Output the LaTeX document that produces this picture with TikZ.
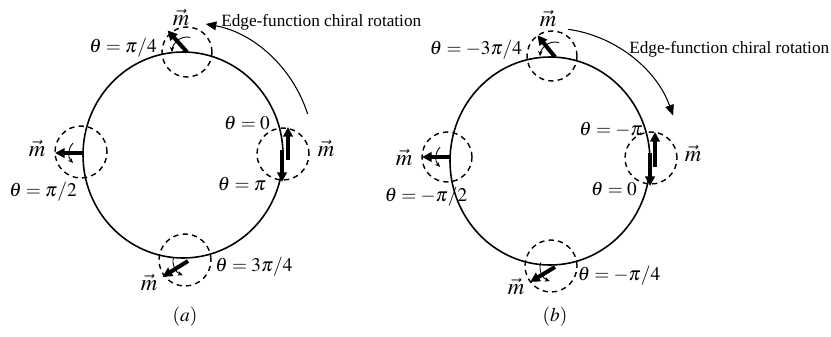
\documentclass[tikz,border=0pt]{standalone}
\usepackage{mathptmx}
\usepackage[no-math]{fontspec}
\setmainfont{Liberation Serif}
\usetikzlibrary{arrows.meta,calc}

\begin{document}
\begin{tikzpicture}[x=0.02cm, y=0.02cm, line join=round,
    rim/.style={line width=0.9pt},
    probe/.style={line width=0.8pt, dash pattern=on 3pt off 2.4pt},
    mvec/.style={line width=2.3pt, -{Triangle[length=5.5pt,width=5.4pt]}},
    spin/.style={line width=0.5pt, -{Stealth[length=3pt,width=2.6pt]}},
    chiral/.style={line width=0.6pt, -{Triangle[length=6pt,width=5pt]}},
    lab/.style={font=\fontsize{11}{12}\selectfont, inner sep=0pt},
    mlab/.style={font=\fontsize{13}{14}\selectfont, inner sep=0pt},
    note/.style={font=\fontsize{9.8}{11}\selectfont, inner sep=0pt, anchor=west}]
    \useasboundingbox (0,0) rectangle (831,336);

    % ---------- (a) ----------
    \coordinate (Ca) at (183,181);
    \draw[rim] (Ca) ellipse [x radius=100, y radius=103];

    % 四个探测点
    \coordinate (Ta) at (187,284);
    \coordinate (La) at (83,183);
    \coordinate (Ra) at (283,182);
    \coordinate (Ba) at (188,75);
    \draw[probe] (Ta) circle[radius=25];
    \draw[probe] (81,184) circle[radius=26];
    \draw[probe] (Ra) circle[radius=26];
    \draw[probe] (185,76) circle[radius=26];

    % 磁矩 m
    \draw[mvec] (Ta) -- ++(132:29);
    \draw[mvec] (La) -- ++(180:28);
    \draw[mvec] (288,176) -- (288,209);
    \draw[mvec] (282,186) -- (282,154);
    \draw[mvec] (Ba) -- ++(212:30);

    % 小转向箭头
    \draw[spin] ($(Ta)+(77:15)$) arc[start angle=77, end angle=180, radius=15];
    \draw[spin] ($(La)+(135:14)$) arc[start angle=135, end angle=225, radius=14];
    \draw[spin] ($(Ba)+(165:15)$) arc[start angle=165, end angle=250, radius=15];

    % 手征旋转
    \draw[chiral] ($(Ca)+(18:131 and 133)$) arc[start angle=18, end angle=80, x radius=131, y radius=133];
    \node[note] (ta) at (221,314) {Edge-function chiral rotation};

    % 标签
    \node[mlab] (mta) at (181,319) {$\vec{m}$};
    \node[lab] (tha) at (123,288) {$\theta=\pi/4$};
    \node[lab] (tza) at (247,213) {$\theta=0$};
    \node[mlab] (mra) at (326,188) {$\vec{m}$};
    \node[lab] (tpa) at (242,152) {$\theta=\pi$};
    \node[mlab] (mla) at (37,188) {$\vec{m}$};
    \node[lab] (tla) at (43,144) {$\theta=\pi/2$};
    \node[mlab] (mba) at (149,54) {$\vec{m}$};
    \node[lab] (tba) at (254,69) {$\theta=3\pi/4$};
    \node[lab] (capa) at (185,19) {$(a)$};

    % ---------- (b) ----------
    \coordinate (Cb) at (550,175);
    \draw[rim] (Cb) ellipse [x radius=100, y radius=104];

    \coordinate (Tb) at (555,279);
    \coordinate (Lb) at (450,179);
    \coordinate (Rb) at (651,178);
    \coordinate (Bb) at (555,69);
    \draw[probe] (552,280) circle[radius=25];
    \draw[probe] (447,179) circle[radius=25];
    \draw[probe] (Rb) circle[radius=26];
    \draw[probe] (551,70) circle[radius=26];

    \draw[mvec] (Tb) -- ++(129:28);
    \draw[mvec] (Lb) -- ++(180:28);
    \draw[mvec] (655,169) -- (655,204);
    \draw[mvec] (650,183) -- (650,150);
    \draw[mvec] (Bb) -- ++(211:29);

    \draw[spin] ($(Tb)+(74:15)$) arc[start angle=74, end angle=177, radius=15];
    \draw[spin] ($(Lb)+(135:14)$) arc[start angle=135, end angle=225, radius=14];
    \draw[spin] ($(Bb)+(162:15)$) arc[start angle=162, end angle=250, radius=15];

    \draw[chiral] ($(Cb)+(82:131 and 133)$) arc[start angle=82, end angle=20, x radius=131, y radius=133];
    \node[note] (tb) at (629,287) {Edge-function chiral rotation};

    \node[mlab] (mtb) at (548,318) {$\vec{m}$};
    \node[lab] (thb) at (476,286) {$\theta=-3\pi/4$};
    \node[lab] (tpb) at (611,206) {$\theta=-\pi$};
    \node[mlab] (mrb) at (693,183) {$\vec{m}$};
    \node[mlab] (mlb) at (404,179) {$\vec{m}$};
    \node[lab] (tlb) at (426,139) {$\theta=-\pi/2$};
    \node[lab] (tzb) at (614,147) {$\theta=0$};
    \node[mlab] (mbb) at (516,50) {$\vec{m}$};
    \node[lab] (tbb) at (619,60) {$\theta=-\pi/4$};
    \node[lab] (capb) at (555,19) {$(b)$};
\end{tikzpicture}
\end{document}
